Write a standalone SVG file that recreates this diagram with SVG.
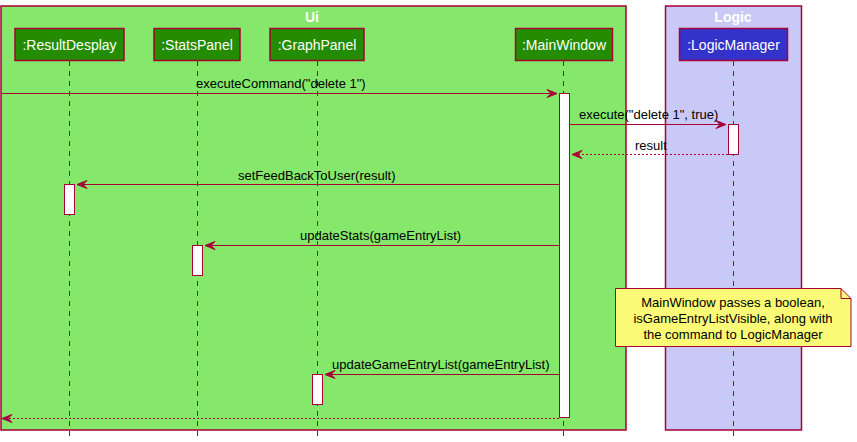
<svg xmlns="http://www.w3.org/2000/svg" width="857" height="442" viewBox="0 0 857 442">
<style>
.t{font-family:"Liberation Sans",Arial,sans-serif;font-size:13px;fill:#000}
.pt{font-family:"Liberation Sans",Arial,sans-serif;font-size:14px;fill:#fff;text-anchor:middle}
.bt{font-family:"Liberation Sans",Arial,sans-serif;font-size:14px;font-weight:bold;fill:#fff;text-anchor:middle}
.life{stroke:#A80036;stroke-width:1;stroke-dasharray:5,5;fill:none}
.msg{stroke:#A80036;stroke-width:1;fill:none}
.ret{stroke:#A80036;stroke-width:1;stroke-dasharray:2,2;fill:none}
.act{fill:#fff;stroke:#A80036;stroke-width:1}
.ah{fill:#A80036;stroke:#A80036;stroke-width:1}
.pui{fill:#238C00;stroke:#A80036;stroke-width:1.5}
.plg{fill:#3333CC;stroke:#A80036;stroke-width:1.5}
</style>
<rect width="857" height="442" fill="#fff"/>
<g id="box-ui">
<rect x="1" y="6" width="625" height="424" fill="#85E86B" stroke="#A80036" stroke-width="1.5"/>
<text class="bt" x="312" y="22">Ui</text>
</g>
<g id="box-logic">
<rect x="665.5" y="6" width="136" height="424" fill="#C9C9F8" stroke="#A80036" stroke-width="1.5"/>
<text class="bt" x="733" y="22">Logic</text>
</g>
<g id="lifelines">
<line class="life" x1="69.5" y1="61" x2="69.5" y2="437"/>
<line class="life" x1="197.5" y1="61" x2="197.5" y2="437"/>
<line class="life" x1="317.5" y1="61" x2="317.5" y2="437"/>
<line class="life" x1="563.5" y1="61" x2="563.5" y2="437"/>
<line class="life" x1="733.5" y1="61" x2="733.5" y2="437"/>
</g>
<g id="resultDesplay">
<rect class="pui" x="15" y="28.5" width="109" height="32"/>
<text class="pt" x="69.5" y="50">:ResultDesplay</text>
<rect class="act" x="64.5" y="184.5" width="10" height="30"/>
</g>
<g id="statsPanel">
<rect class="pui" x="154" y="28.5" width="86" height="32"/>
<text class="pt" x="197" y="50">:StatsPanel</text>
<rect class="act" x="192.5" y="245.5" width="10" height="30"/>
</g>
<g id="graphPanel">
<rect class="pui" x="270" y="28.5" width="94" height="32"/>
<text class="pt" x="317" y="50">:GraphPanel</text>
<rect class="act" x="312.5" y="374.5" width="10" height="30"/>
</g>
<g id="mainWindow">
<rect class="pui" x="515.5" y="28.5" width="97" height="32"/>
<text class="pt" x="564" y="50">:MainWindow</text>
<rect class="act" x="559.5" y="93.5" width="10" height="324"/>
</g>
<g id="logicManager">
<rect class="plg" x="679.5" y="28.5" width="108" height="32"/>
<text class="pt" x="733.5" y="50">:LogicManager</text>
<rect class="act" x="728.5" y="124.5" width="10" height="30"/>
</g>
<g id="connectors">
<line class="msg" x1="0" y1="93.5" x2="557" y2="93.5"/>
<polygon class="ah" points="547,89.5 557,93.5 547,97.5 551,93.5"/>
<text class="t" x="196" y="88">executeCommand("delete 1")</text>
<line class="msg" x1="569.5" y1="124.5" x2="726" y2="124.5"/>
<polygon class="ah" points="716,120.5 726,124.5 716,128.5 720,124.5"/>
<text class="t" x="579" y="119">execute("delete 1", true)</text>
<line class="ret" x1="728" y1="154.5" x2="572" y2="154.5"/>
<polygon class="ah" points="582,150.5 572,154.5 582,158.5 578,154.5"/>
<text class="t" x="635" y="150">result</text>
<line class="msg" x1="559" y1="184.5" x2="77" y2="184.5"/>
<polygon class="ah" points="87,180.5 77,184.5 87,188.5 83,184.5"/>
<text class="t" x="238" y="180">setFeedBackToUser(result)</text>
<line class="msg" x1="559" y1="245.5" x2="205" y2="245.5"/>
<polygon class="ah" points="215,241.5 205,245.5 215,249.5 211,245.5"/>
<text class="t" x="300" y="240">updateStats(gameEntryList)</text>
<line class="msg" x1="559" y1="374.5" x2="325" y2="374.5"/>
<polygon class="ah" points="335,370.5 325,374.5 335,378.5 331,374.5"/>
<text class="t" x="332" y="369">updateGameEntryList(gameEntryList)</text>
<line class="ret" x1="559" y1="418.5" x2="2" y2="418.5"/>
<polygon class="ah" points="12,414.5 2,418.5 12,422.5 8,418.5"/>
</g>
<g id="note">
<path d="M615.5,288.5 H841 L851,298.5 V346.5 H615.5 Z" fill="#FBFB77" stroke="#A80036" stroke-width="1"/>
<path d="M841,288.5 V298.5 H851" fill="none" stroke="#A80036" stroke-width="1"/>
<text class="t" x="733" y="307" text-anchor="middle">MainWindow passes a boolean,</text>
<text class="t" x="733" y="323" text-anchor="middle">isGameEntryListVisible, along with</text>
<text class="t" x="733" y="339" text-anchor="middle">the command to LogicManager</text>
</g>
</svg>
